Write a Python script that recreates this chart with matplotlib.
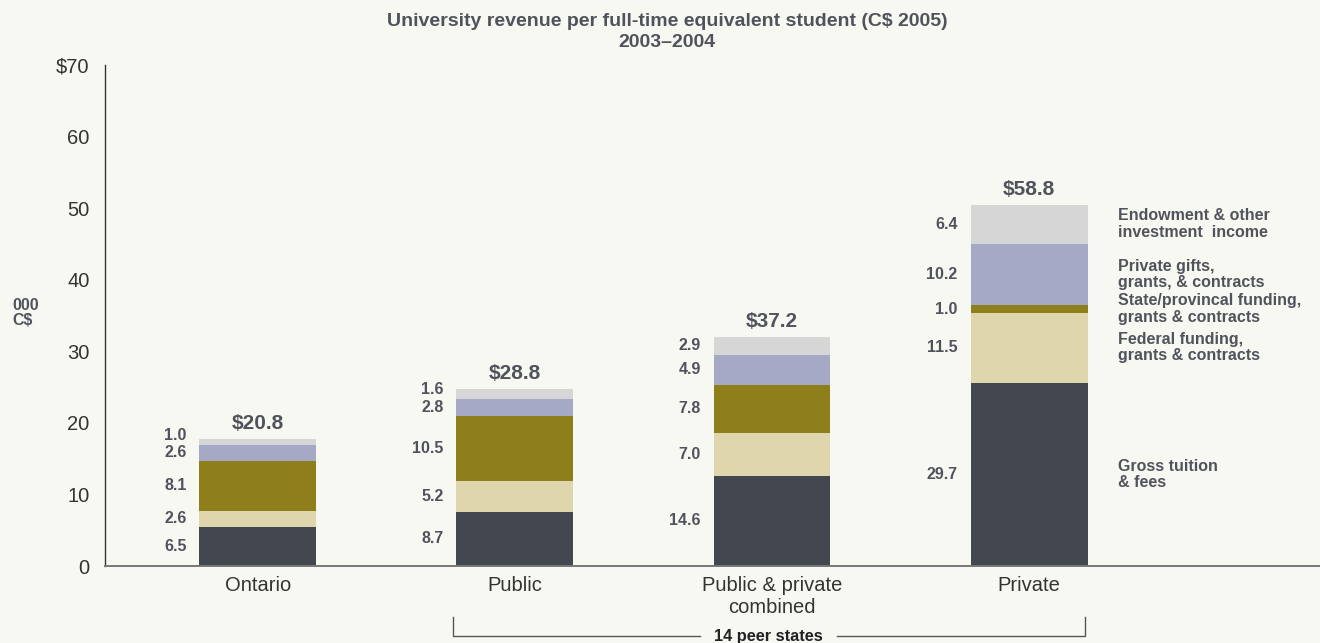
import numpy as np
import matplotlib
matplotlib.use("Agg")
import matplotlib.pyplot as plt
import matplotlib.transforms as mtransforms

plt.rcParams['font.family'] = ['Liberation Sans', 'DejaVu Sans']

# Data
categories = ["Ontario", "Public", "Public & private\ncombined", "Private"]
components = ["Gross tuition\n& fees",
              "Federal funding,\ngrants & contracts",
              "State/provincal funding,\ngrants & contracts",
              "Private gifts,\ngrants, & contracts",
              "Endowment & other\ninvestment  income"]

# printed segment values (000 C$)
tuition = [6.5, 8.7, 14.6, 29.7]
federal = [2.6, 5.2, 7.0, 11.5]
state = [8.1, 10.5, 7.8, 1.0]
gifts = [2.6, 2.8, 4.9, 10.2]
endowment = [1.0, 1.6, 2.9, 6.4]
totals = ["$20.8", "$28.8", "$37.2", "$58.8"]

# segment heights as drawn in the original
tuition_h = [5.45, 7.55, 12.6, 25.6]
federal_h = [2.25, 4.35, 6.0, 9.8]
state_h = [7.0, 9.1, 6.7, 1.0]
gifts_h = [2.25, 2.4, 4.2, 8.65]
endowment_h = [0.85, 1.4, 2.5, 5.45]

colors = ["#43474f", "#dfd6ad", "#8f7f1a", "#a6a9c6", "#d6d6d6"]
bg = "#f8f8f3"
txt = "#50535b"

values = [tuition, federal, state, gifts, endowment]
heights = [tuition_h, federal_h, state_h, gifts_h, endowment_h]

fig = plt.figure(figsize=(13.2, 6.43), dpi=100, facecolor=bg)
ax = fig.add_axes([105 / 1320, 1 - 566 / 643, 1 - 105 / 1320, 501 / 643])
ax.set_facecolor(bg)

x = np.arange(len(categories))
width = 0.455
bottom = np.zeros(len(categories))
label_y = [[0.0] * len(categories) for _ in components]
for i, h in enumerate(heights):
    h = np.array(h)
    ax.bar(x, h, width, bottom=bottom, color=colors[i], linewidth=0)
    for j in range(len(categories)):
        label_y[i][j] = bottom[j] + h[j] / 2
    bottom = bottom + h

# keep the small labels from running into each other
gap = 2.4
for j in range(len(categories)):
    for i in range(1, len(components)):
        if label_y[i][j] < label_y[i - 1][j] + gap:
            label_y[i][j] = label_y[i - 1][j] + gap

for i, vals in enumerate(values):
    for j, v in enumerate(vals):
        ax.text(x[j] - width / 2 - 0.05, label_y[i][j], f"{v:.1f}",
                ha="right", va="center", fontsize=11.5, color=txt,
                fontweight="bold")

for j, t in enumerate(totals):
    ax.annotate(t, (x[j], bottom[j]), xytext=(0, 4), textcoords="offset points",
                ha="center", va="bottom", fontsize=15, fontweight="bold",
                color=txt)

# component names beside the Private bar
for i, name in enumerate(components):
    ax.text(3.346, label_y[i][3], name, ha="left", va="center", fontsize=11.5,
            color=txt, fontweight="bold", linespacing=1.1)

ax.set_xlim(-0.595, 4.132)
ax.set_ylim(0, 70)
ax.set_yticks(range(0, 71, 10))
ax.set_yticklabels(["0", "10", "20", "30", "40", "50", "60", "$70"])
ax.set_xticks(x)
ax.set_xticklabels(categories, linespacing=1.2)
ax.tick_params(axis="both", length=0, labelsize=14.5, colors="#333333")
ax.tick_params(axis="y", pad=11)
ax.tick_params(axis="x", pad=7)
for s in ["top", "right"]:
    ax.spines[s].set_visible(False)
ax.spines["left"].set_color("#333333")
ax.spines["left"].set_linewidth(1.0)
ax.spines["bottom"].set_color("#777777")
ax.spines["bottom"].set_linewidth(1.4)

fig.text(12 / 1320, 1 - 313 / 643, "000\nC$", ha="left", va="center",
         fontsize=11.5, fontweight="bold", color=txt, linespacing=1.05)

fig.text(667 / 1320, 1 - 32 / 643,
         "University revenue per full-time equivalent student (C$ 2005)\n2003\u20132004",
         ha="center", va="center", fontsize=14, fontweight="bold", color=txt,
         linespacing=1.3)

# bracket under the three peer-state bars
trans = mtransforms.blended_transform_factory(ax.transData, ax.transAxes)
y_top, y_low = -0.102, -0.140
ax.plot([0.759, 0.759, 1.72], [y_top, y_low, y_low], color="#555555", lw=1,
        transform=trans, clip_on=False)
ax.plot([2.253, 3.218, 3.218], [y_low, y_low, y_top], color="#555555", lw=1,
        transform=trans, clip_on=False)
ax.text(1.984, y_low, "14 peer states", ha="center", va="center",
        fontsize=11.8, fontweight="bold", color="#222222", transform=trans,
        clip_on=False)

fig.savefig("out.png", dpi=100, facecolor=bg)
